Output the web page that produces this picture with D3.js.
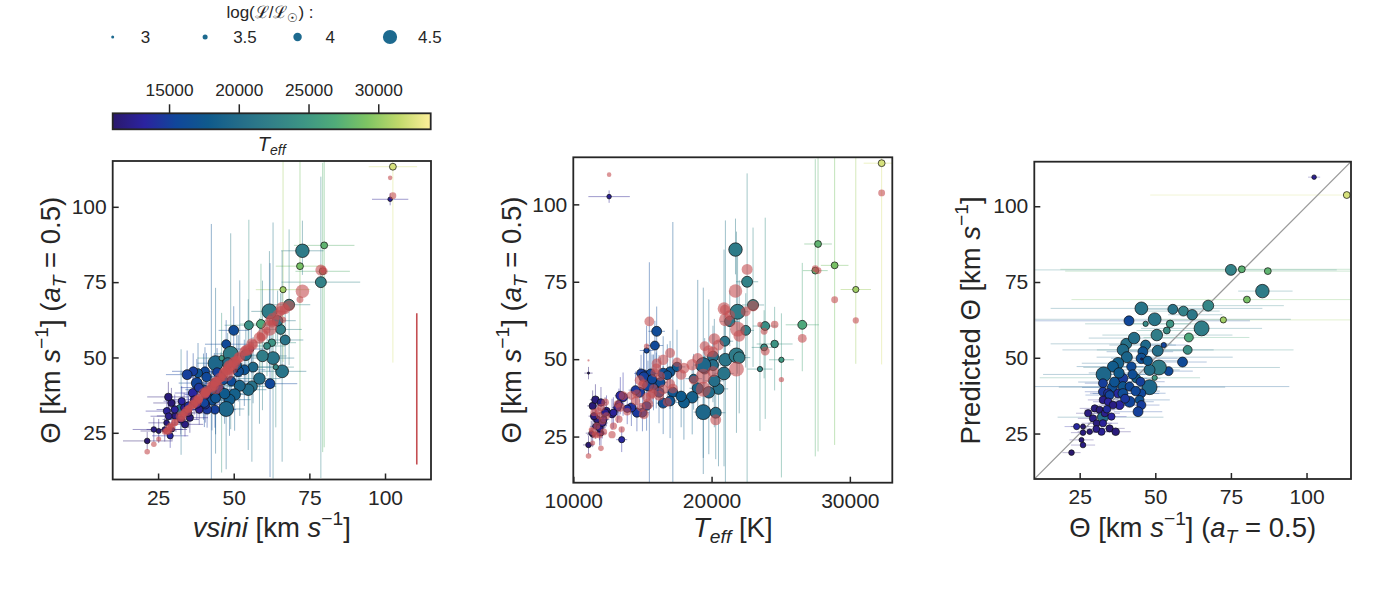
<!DOCTYPE html>
<html lang="en">
<head>
<meta charset="UTF-8">
<title>Theta vs vsini, Teff and prediction</title>
<script src="https://cdn.jsdelivr.net/npm/d3@7/dist/d3.min.js"></script>
<style>
  body { margin: 0; background: #fff; }
  svg text { font-family: "Liberation Sans", Arial, sans-serif; fill: #262626; }
</style>
</head>
<body>
<svg id="chart" width="1384" height="592"></svg>
<script>
// ---- data, one entry per star ----
var theta = [102.5,113.3,75.0,78.6,87.2,85.4,80.3,72.5,45.4,55.8,59.3,62.2,67.5,65.3,49.8,41.3,46.8,54.9,53.8,61.1,
  60.7,59.0,52.8,50.8,40.4,39.3,46.8,45.9,45.4,54.4,51.2,48.1,42.1,40.6,37.7,36.0,32.9,48.1,49.8,43.7,
  45.1,39.3,32.7,35.8,39.3,41.5,32.7,34.4,37.7,39.3,45.4,34.9,38.2,41.5,44.8,45.4,44.3,22.3,26.1,25.6,
  24.0,26.1,28.3,26.1,27.8,30.0,29.4,30.6,32.2,31.6,32.7,33.3,34.9,36.9,35.5,32.7,34.4,36.0,32.7,45.5,
  43.0,38.0,42.5,47.5,36.5,50.5,40.0,43.5,30.5,34.0];
var thetaPred = [109.6,103.7,79.0,79.2,78.6,72.0,69.2,62.5,66.3,66.0,65.4,64.2,67.2,59.7,62.7,62.2,61.2,61.2,59.0,56.7,
  52.6,48.6,54.2,52.3,54.6,52.6,54.2,52.0,49.8,45.6,46.8,46.0,47.1,50.2,48.2,47.1,44.5,40.3,43.4,43.2,
  42.1,43.2,41.6,40.2,40.5,40.5,38.8,38.3,38.2,38.2,38.3,37.7,34.4,35.5,36.1,34.4,32.2,18.7,21.2,22.9,
  27.3,27.3,25.6,25.3,31.7,33.3,30.0,28.4,25.6,32.8,30.4,31.7,26.7,25.6,30.6,36.1,35.5,34.4,28.4,49.6,
  56.5,45.0,44.5,49.0,42.0,57.5,36.5,39.0,26.5,33.0];
var teff = [12590,32300,22570,27500,27700,21730,28900,30430,20900,20960,22470,21320,23000,21880,21000,15500,23500,24560,23800,26560,
  23880,16030,15300,20100,20500,19800,19500,17000,16500,15900,21800,20100,16000,19000,18600,18000,19400,19400,25050,18700,
  15100,14800,15000,16500,17200,15800,14600,14200,13600,16200,15600,15300,13400,15400,16800,14900,15100,11100,12000,11400,
  13500,11300,11600,11900,11900,11800,12100,11700,12800,11500,20300,12400,11400,11600,13300,12300,13200,12000,12900,11100,
  20200,17800,16300,17500,17000,22000,14500,15700,12200,13900];
var logL = [3.4,3.8,4.25,3.8,3.8,4.45,3.8,3.7,4.4,4.15,4.15,4.2,4.25,4.55,4.4,4.15,3.55,3.9,3.8,4.05,
  4.05,4.15,3.55,4.25,4.25,4.3,4.15,4.15,4.2,4.05,4.55,4.25,4.1,4.25,4.3,4.25,4.55,4.55,3.55,4.05,
  4.05,4.15,4.05,4.15,4.15,4.05,4.05,4.05,4.05,4.15,4.05,4.05,4.05,4.25,4.05,4.05,4.15,3.6,3.6,3.5,
  3.7,3.5,3.6,3.6,3.85,3.85,3.85,3.8,3.85,3.85,4.25,3.85,3.85,3.9,3.85,3.9,3.9,3.9,3.85,2.7,
  4.3,4.2,4.1,4.1,4.15,4.3,4.05,4.1,3.8,3.9];
var vsini = [101.7,102.6,78.8,79.4,79.9,72.7,71.9,66.3,66.0,67.0,65.5,64.5,68.3,61.8,63.0,62.0,63.9,62.6,61.0,59.0,
  55.0,50.0,55.8,54.0,56.0,54.8,56.4,53.5,51.5,47.5,49.0,48.0,49.2,52.0,50.3,48.6,47.5,44.0,46.0,45.8,
  44.5,45.3,43.8,42.8,42.6,43.6,41.2,40.6,40.8,40.0,40.5,40.3,36.5,37.8,38.2,36.6,34.6,21.4,23.6,25.2,
  29.0,29.6,27.8,27.2,33.9,35.5,32.5,30.6,27.9,35.0,32.6,33.6,29.4,28.4,32.8,38.6,37.8,36.9,30.5,51.0,
  58.5,47.0,46.5,51.0,44.0,59.5,38.5,41.0,28.5,35.0];
var thetaErrLo = [2,65,65,60,67,8,58,24,30,10,12,8,20,20,40,31,20,15,10,15,
  30,10,8,10,25,20,12,12,10,10,25,12,8,10,12,12,20,30,38,10,
  8,6,6,10,30,8,6,6,6,10,10,8,6,8,8,6,8,3,4,4,
  4,4,4,4,4,5,5,5,5,5,15,5,5,5,5,5,5,5,5,2,
  15,10,8,10,12,18,6,8,5,5];
var thetaErrHi = [2,20,35,36,40,10,40,45,40,12,12,10,25,20,45,40,15,12,12,20,
  35,8,8,10,15,30,10,10,12,8,40,10,10,35,10,10,15,25,15,8,
  8,8,8,12,55,10,8,6,8,12,8,6,6,8,10,6,8,3,4,4,
  4,4,5,4,5,5,5,5,5,5,20,5,5,5,5,5,5,5,5,2,
  20,12,8,12,10,25,6,8,5,5];
var vsiniErr = [6,8,13,9,10,7,8,9,8,6,7,6,7,6,7,9,6,8,6,7,
  8,5,5,6,8,6,6,7,6,7,5,5,6,7,6,7,6,6,8,7,
  6,8,7,6,6,7,7,6,7,6,6,7,6,6,6,7,7,8,7,6,
  6,5,6,6,6,6,6,6,7,6,6,6,6,7,6,6,6,7,6,3,
  7,6,6,7,6,8,6,6,6,6];
var teffErr = [1500,1300,800,900,1000,300,1000,1100,700,600,600,700,800,800,800,400,900,1300,900,1200,
  900,600,500,700,700,700,600,600,600,600,700,600,500,600,600,600,700,700,900,600,
  500,500,500,500,500,500,500,500,500,500,500,500,400,500,500,500,500,400,400,400,
  400,400,400,400,400,400,400,400,400,400,700,400,400,400,400,400,400,400,400,300,
  700,600,500,600,500,800,500,500,400,400];

// representative prediction uncertainty drawn in the first panel
var predErrAt = 110.5;
var predErrRange = [14.5, 64.7];

// legend and colourbar
var legendLogL = [3, 3.5, 4, 4.5];
var cbarRange = [10960, 33760];
var cbarTicks = [15000, 20000, 25000, 30000];

// ---- styles ----
var halineStops = ["#2a186c","#2b23a0","#10479a","#0f5a8c","#246d89","#328088",
                   "#3d9584","#50ac79","#7ec463","#c0d96b","#fdef9a"];
var predColor = "#c44e52";
var frameColor = "#262626";

var stars = d3.range(theta.length).map(function(i) {
  return {theta: theta[i], pred: thetaPred[i], teff: teff[i], logL: logL[i],
          vsini: vsini[i], lo: thetaErrLo[i], hi: thetaErrHi[i],
          vErr: vsiniErr[i], tErr: teffErr[i]};
});

var color = d3.scaleSequential(d3.piecewise(d3.interpolateRgb, halineStops)).domain(cbarRange);
var size = d3.scalePow().exponent(0.45).domain([0, 1000]).range([0, 1.5]);
function rad(d) { return size(Math.pow(10, d.logL)); }

var svg = d3.select("#chart");
svg.append("rect").attr("width", 1384).attr("height", 592).attr("fill", "#fff");
var defs = svg.append("defs");

// rich text helper for the mathtext style labels
function rich(sel, parts, fs) {
  var shift = 0;
  parts.forEach(function(p) {
    var ts = sel.append("tspan").text(p.t);
    var target = p.sup ? -0.42 * fs : (p.sub ? 0.22 * fs : 0);
    if (target !== shift) { ts.attr("dy", target - shift); shift = target; }
    if (p.sup || p.sub) ts.attr("font-size", fs * 0.7);
    if (p.it) ts.attr("font-style", "italic");
  });
}
var thetaLabel = [{t:"\u0398 [km "},{t:"s",it:true},{t:"\u22121",sup:true},{t:"] ("},
                  {t:"a",it:true},{t:"T",it:true,sub:true},{t:" = 0.5)"}];

var panels = [
  {x0:112.7, x1:431, y0:161, y1:479.5, xd:[10,115.2], yd:[9.5,115.2], xt:[25,50,75,100], lx:60},
  {x0:573.3, x1:892.3, y0:157.3, y1:482.7, xd:[10000,33070], yd:[10.1,115.2], xt:[10000,20000,30000], lx:521},
  {x0:1034.3, x1:1351, y0:161.7, y1:479, xd:[10,114.7], yd:[10,114.7], xt:[25,50,75,100], lx:980}
];

panels.forEach(function(p, k) {
  p.x = d3.scaleLinear().domain(p.xd).range([p.x0, p.x1]);
  p.y = d3.scaleLinear().domain(p.yd).range([p.y1, p.y0]);
  defs.append("clipPath").attr("id", "clip" + k).append("rect")
    .attr("x", p.x0).attr("y", p.y0).attr("width", p.x1 - p.x0).attr("height", p.y1 - p.y0);
  p.g = svg.append("g");
  p.plot = p.g.append("g").attr("clip-path", "url(#clip" + k + ")");
});

function errLines(g, data, segs, op) {
  g.append("g").selectAll("line").data(data.flatMap(function(d) {
      return segs(d).map(function(s) { return {d: d, s: s}; });
    }))
    .join("line")
    .attr("x1", function(e) { return e.s[0]; }).attr("y1", function(e) { return e.s[1]; })
    .attr("x2", function(e) { return e.s[2]; }).attr("y2", function(e) { return e.s[3]; })
    .attr("stroke", function(e) { return color(e.d.teff); })
    .attr("stroke-width", 1).attr("stroke-opacity", op);
}
function dots(g, data, cx, cy) {
  g.append("g").selectAll("circle").data(data).join("circle")
    .attr("cx", cx).attr("cy", cy).attr("r", rad)
    .attr("fill", function(d) { return color(d.teff); })
    .attr("stroke", "#111").attr("stroke-width", 0.8).attr("stroke-opacity", 0.9);
}
function redDots(g, data, cx, cy) {
  g.append("g").selectAll("circle").data(data).join("circle")
    .attr("cx", cx).attr("cy", cy).attr("r", rad)
    .attr("fill", predColor).attr("fill-opacity", 0.6);
}

// panel 1: theta vs vsini
var p1 = panels[0];
errLines(p1.plot, stars, function(d) {
  return [[p1.x(d.vsini - d.vErr), p1.y(d.theta), p1.x(d.vsini + d.vErr), p1.y(d.theta)],
          [p1.x(d.vsini), p1.y(d.theta - d.lo), p1.x(d.vsini), p1.y(d.theta + d.hi)]];
}, 0.45);
dots(p1.plot, stars, function(d) { return p1.x(d.vsini); }, function(d) { return p1.y(d.theta); });
redDots(p1.plot, stars, function(d) { return p1.x(d.vsini); }, function(d) { return p1.y(d.pred); });
p1.plot.append("line")
  .attr("x1", p1.x(predErrAt)).attr("x2", p1.x(predErrAt))
  .attr("y1", p1.y(predErrRange[0])).attr("y2", p1.y(predErrRange[1]))
  .attr("stroke", predColor).attr("stroke-width", 1.6);

// panel 2: theta vs Teff
var p2 = panels[1];
errLines(p2.plot, stars, function(d) {
  return [[p2.x(d.teff - d.tErr), p2.y(d.theta), p2.x(d.teff + d.tErr), p2.y(d.theta)],
          [p2.x(d.teff), p2.y(d.theta - d.lo), p2.x(d.teff), p2.y(d.theta + d.hi)]];
}, 0.45);
dots(p2.plot, stars, function(d) { return p2.x(d.teff); }, function(d) { return p2.y(d.theta); });
redDots(p2.plot, stars, function(d) { return p2.x(d.teff); }, function(d) { return p2.y(d.pred); });

// panel 3: predicted vs measured theta
var p3 = panels[2];
errLines(p3.plot, stars, function(d) {
  return [[p3.x(d.theta - d.lo), p3.y(d.pred), p3.x(d.theta + d.hi), p3.y(d.pred)]];
}, 0.3);
p3.plot.append("line")
  .attr("x1", p3.x(p3.xd[0])).attr("y1", p3.y(p3.xd[0]))
  .attr("x2", p3.x(p3.xd[1])).attr("y2", p3.y(p3.xd[1]))
  .attr("stroke", "#9a9a9a").attr("stroke-width", 1.3);
dots(p3.plot, stars, function(d) { return p3.x(d.theta); }, function(d) { return p3.y(d.pred); });

// axes, frames, labels
var fmt = d3.format("d");
panels.forEach(function(p) {
  var ax = p.g.append("g").attr("transform", "translate(0," + p.y1 + ")")
    .call(d3.axisBottom(p.x).tickValues(p.xt).tickFormat(fmt).tickSizeInner(-6).tickSizeOuter(0).tickPadding(10.5));
  var ay = p.g.append("g").attr("transform", "translate(" + p.x0 + ",0)")
    .call(d3.axisLeft(p.y).tickValues([25,50,75,100]).tickFormat(fmt).tickSizeInner(-6).tickSizeOuter(0).tickPadding(6));
  [ax, ay].forEach(function(a) {
    a.select(".domain").remove();
    a.selectAll("line").attr("stroke", frameColor).attr("stroke-width", 1.5);
    a.selectAll("text").attr("font-size", 21).attr("font-family", "Liberation Sans, Arial, sans-serif").attr("fill", "#262626");
  });
  p.g.append("rect").attr("x", p.x0).attr("y", p.y0)
    .attr("width", p.x1 - p.x0).attr("height", p.y1 - p.y0)
    .attr("fill", "none").attr("stroke", frameColor).attr("stroke-width", 1.8);
});

var LFS = 27.5;
function xLabel(p, parts) {
  var t = svg.append("text").attr("x", (p.x0 + p.x1) / 2).attr("y", 537)
    .attr("text-anchor", "middle").attr("font-size", LFS);
  rich(t, parts, LFS);
}
function yLabel(p, parts) {
  var cy = (p.y0 + p.y1) / 2;
  var t = svg.append("text").attr("transform", "translate(" + p.lx + "," + cy + ") rotate(-90)")
    .attr("text-anchor", "middle").attr("font-size", LFS);
  rich(t, parts, LFS);
}
xLabel(p1, [{t:"vsini",it:true},{t:" [km "},{t:"s",it:true},{t:"\u22121",sup:true},{t:"]"}]);
xLabel(p2, [{t:"T",it:true},{t:"eff",it:true,sub:true},{t:" [K]"}]);
xLabel(p3, thetaLabel);
yLabel(p1, thetaLabel);
yLabel(p2, thetaLabel);
yLabel(p3, [{t:"Predicted \u0398 [km "},{t:"s",it:true},{t:"\u22121",sup:true},{t:"]"}]);

// size legend
var leg = svg.append("g");
var legText = leg.append("text").attr("x", 270).attr("y", 18).attr("text-anchor", "middle").attr("font-size", 17);
rich(legText, [{t:"log(\u2112/\u2112"},{t:"\u2609",sub:true},{t:") :"}], 17);
var legX = d3.scalePoint().domain(legendLogL).range([112.7, 390]);
legendLogL.forEach(function(v) {
  leg.append("circle").attr("cx", legX(v)).attr("cy", 37)
    .attr("r", size(Math.pow(10, v))).attr("fill", "#1d6a8f");
  leg.append("text").attr("x", legX(v) + 28).attr("y", 42.5).attr("font-size", 17).text(String(v));
});

// colourbar
var cb = {x0: 112.7, x1: 430.7, y0: 113.3, y1: 129.3};
var grad = defs.append("linearGradient").attr("id", "cbar");
d3.range(0, 1.0001, 0.05).forEach(function(t) {
  grad.append("stop").attr("offset", t)
    .attr("stop-color", color(cbarRange[0] + t * (cbarRange[1] - cbarRange[0])));
});
var cbx = d3.scaleLinear().domain(cbarRange).range([cb.x0, cb.x1]);
svg.append("rect").attr("x", cb.x0).attr("y", cb.y0).attr("width", cb.x1 - cb.x0)
  .attr("height", cb.y1 - cb.y0).attr("fill", "url(#cbar)")
  .attr("stroke", frameColor).attr("stroke-width", 1.8);
var cax = svg.append("g").attr("transform", "translate(0," + cb.y0 + ")")
  .call(d3.axisTop(cbx).tickValues(cbarTicks).tickFormat(fmt).tickSizeInner(9).tickSizeOuter(0).tickPadding(8));
cax.select(".domain").remove();
cax.selectAll("line").attr("stroke", frameColor).attr("stroke-width", 1.5);
cax.selectAll("text").attr("font-size", 17.3).attr("font-family", "Liberation Sans, Arial, sans-serif").attr("fill", "#262626");
var cbl = svg.append("text").attr("x", (cb.x0 + cb.x1) / 2).attr("y", 151)
  .attr("text-anchor", "middle").attr("font-size", 20);
rich(cbl, [{t:"T",it:true},{t:"eff",it:true,sub:true}], 20);
</script>
</body>
</html>
